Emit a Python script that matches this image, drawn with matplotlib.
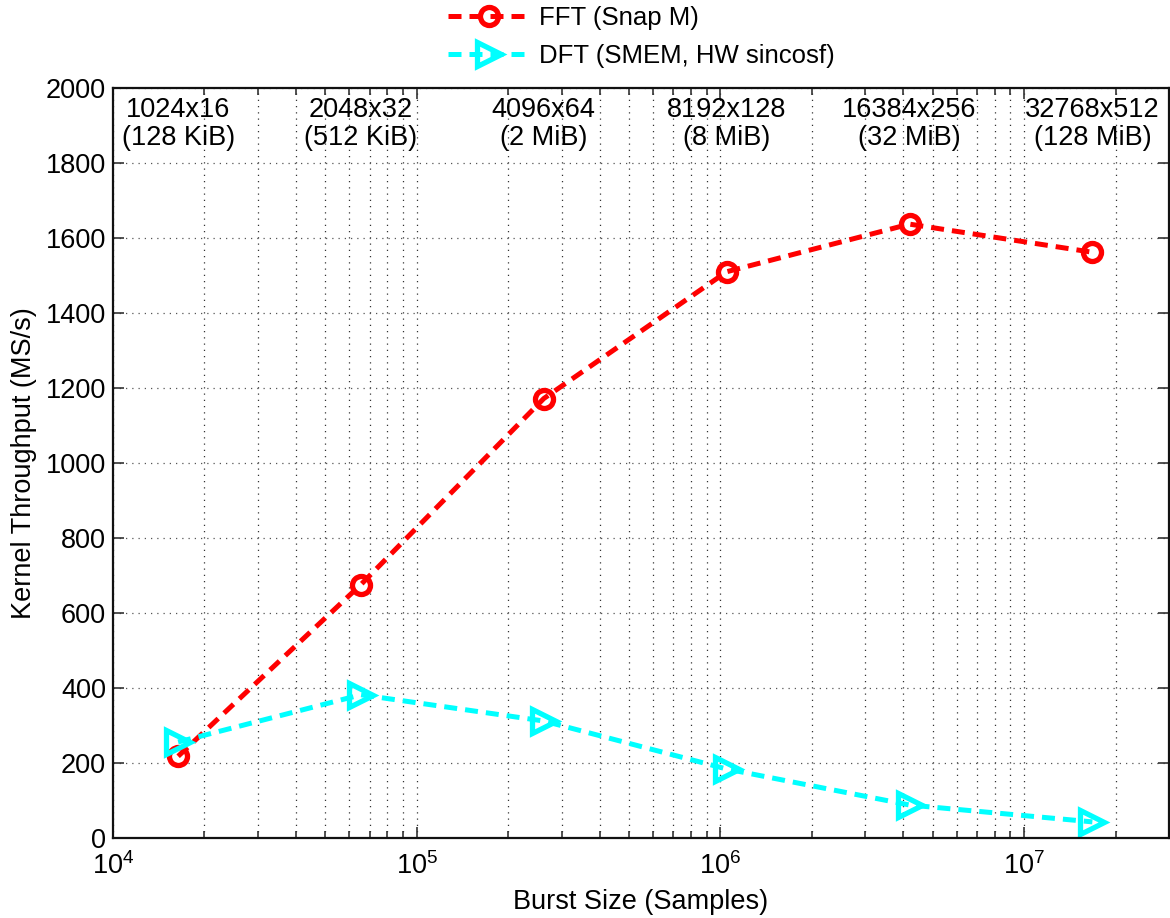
import matplotlib
matplotlib.use("Agg")
import matplotlib.pyplot as plt
from matplotlib.ticker import LogLocator, NullFormatter, MultipleLocator

plt.rcParams['font.family'] = ['Liberation Sans', 'DejaVu Sans']
plt.rcParams['mathtext.fontset'] = 'custom'
plt.rcParams['mathtext.rm'] = 'Liberation Sans'
plt.rcParams['mathtext.it'] = 'Liberation Sans'

# Burst sizes: FFT length x number of FFTs
fft_sizes = [1024, 2048, 4096, 8192, 16384, 32768]
batch_counts = [16, 32, 64, 128, 256, 512]
mem_labels = ["128 KiB", "512 KiB", "2 MiB", "8 MiB", "32 MiB", "128 MiB"]
burst_samples = [n * b for n, b in zip(fft_sizes, batch_counts)]

# Kernel throughput in MS/s
fft_throughput = [218, 676, 1172, 1510, 1637, 1562]
dft_throughput = [256, 382, 312, 184, 88, 43]

FS = 19.5
dash = (0, (2.6, 1.6))

fig = plt.figure(figsize=(11.7, 9.18), dpi=100)
ax = fig.add_axes([113 / 1170, 80 / 918, (1169 - 113) / 1170, (838 - 88) / 918])

ax.plot(burst_samples, fft_throughput, color='red', linestyle=dash, linewidth=3.6,
        marker='o', markersize=13, markeredgewidth=3.8, markerfacecolor='none',
        markeredgecolor='red', label='FFT (Snap M)')
ax.plot(burst_samples, dft_throughput, color='cyan', linestyle=dash, linewidth=3.6,
        marker='>', markersize=17, markeredgewidth=3.8, markerfacecolor='none',
        markeredgecolor='cyan', label='DFT (SMEM, HW sincosf)')

ax.set_xscale('log')
ax.set_xlim(1e4, 3e7)
ax.set_ylim(0, 2000)
ax.yaxis.set_major_locator(MultipleLocator(200))
ax.xaxis.set_major_locator(LogLocator(base=10, numticks=10))
ax.xaxis.set_minor_locator(LogLocator(base=10, subs=range(2, 10), numticks=100))
ax.xaxis.set_minor_formatter(NullFormatter())

ax.tick_params(axis='both', which='both', direction='in', top=True, right=True,
               labelsize=FS, width=1.2, color='#333333')
ax.tick_params(axis='both', which='major', length=8)
ax.tick_params(axis='x', which='minor', length=5)
ax.tick_params(axis='x', which='major', pad=10)
ax.tick_params(axis='y', which='major', pad=5)

ax.grid(True, axis='y', which='major', linestyle=(0, (1, 4)), color='#555555', linewidth=0.9)
ax.grid(True, axis='x', which='both', linestyle=(0, (1, 4)), color='#333333', linewidth=0.9)
ax.set_axisbelow(True)
for s in ax.spines.values():
    s.set_linewidth(1.6)
    s.set_color('#111111')

ax.set_xlabel('Burst Size (Samples)', fontsize=FS, labelpad=7)
ax.set_ylabel('Kernel Throughput (MS/s)', fontsize=FS, labelpad=6)

for x, n, b, m in zip(burst_samples, fft_sizes, batch_counts, mem_labels):
    ax.text(x, 1903, f"{n}x{b}\n({m})", ha='center', va='center', fontsize=FS,
            linespacing=1.1)

fig.legend(loc='upper center', bbox_to_anchor=(0.548, 1.010), frameon=False, fontsize=18.5,
           handlelength=3.2, handletextpad=0.35, labelspacing=0.55, borderaxespad=0.2)

fig.savefig('out.png', dpi=100)
